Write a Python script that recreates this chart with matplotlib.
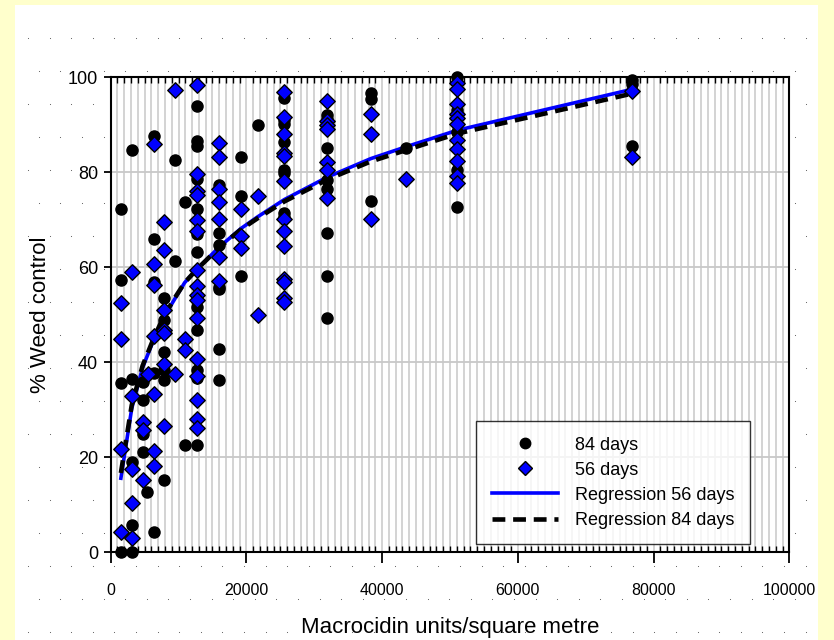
import numpy as np
import matplotlib.pyplot as plt
from matplotlib.patches import Rectangle
from matplotlib.lines import Line2D
from matplotlib.ticker import MultipleLocator

plt.rcParams['font.family'] = ['Liberation Sans', 'DejaVu Sans']

# 84 days - black circles (dose, % weed control)
x_84 = ([1500] * 4 + [3100] * 5 + [4700] * 4 + [5300] + [6400] * 5 + [7900] * 6 +
        [9500] * 2 + [10900] * 2 + [12700] * 13 + [16000] * 7 + [19200] * 3 +
        [21700] + [25600] * 8 + [31900] * 8 + [38300] * 3 + [43500] +
        [51100] * 6 + [76800] * 3)
y_84 = [72.4, 57.3, 35.6, 0.0,
        84.8, 36.4, 19.1, 5.7, 0.0,
        35.9, 32.0, 25.0, 21.1,
        12.6,
        87.6, 65.9, 57.0, 37.7, 4.3,
        53.6, 48.9, 42.2, 38.4, 36.3, 15.2,
        82.7, 61.4,
        73.8, 22.7,
        94.0, 86.7, 85.5, 78.7, 75.5, 72.2, 67.0, 63.3, 51.7, 46.9, 38.4, 36.7, 22.7,
        77.3, 67.2, 64.7, 55.9, 55.4, 42.9, 36.3,
        83.2, 75.1, 58.2,
        90.0,
        95.6, 91.0, 90.3, 86.4, 80.5, 79.8, 71.4, 70.7,
        92.1, 91.2, 85.2, 78.4, 76.6, 67.3, 58.2, 49.3,
        96.8, 95.4, 74.0,
        85.1,
        100.0, 93.1, 90.3, 88.5, 80.5, 72.8,
        99.4, 98.7, 85.5]

# 56 days - blue diamonds
x_56 = ([1500] * 4 + [3100] * 5 + [4700] * 3 + [5500] + [6400] * 7 + [7900] * 7 +
        [9500] * 2 + [10900] * 2 + [12700] * 16 + [16000] * 7 + [19200] * 3 +
        [21700] * 2 + [25600] * 13 + [31900] * 7 + [38300] * 3 + [43500] +
        [51100] * 11 + [76800] * 2)
y_56 = [52.5, 45.0, 21.7, 4.2,
        59.1, 33.0, 17.5, 10.3, 3.1,
        27.5, 25.7, 15.2,
        37.5,
        86.0, 60.8, 56.3, 45.5, 33.3, 21.3, 18.2,
        69.5, 63.6, 51.0, 46.8, 46.2, 39.6, 26.7,
        97.3, 37.5,
        45.0, 42.6,
        98.4, 79.6, 76.1, 75.2, 70.0, 67.7, 59.4, 56.1, 54.2, 53.1, 49.3, 40.8, 37.1, 32.1, 28.1, 26.2,
        86.1, 83.3, 76.6, 73.7, 70.3, 62.1, 57.2,
        72.4, 66.6, 64.0,
        75.0, 50.0,
        97.0, 91.7, 88.2, 84.1, 83.4, 78.2, 70.2, 67.7, 64.5, 57.5, 57.0, 53.5, 52.8,
        95.1, 90.9, 90.0, 89.1, 82.1, 80.5, 74.7,
        92.4, 88.0, 70.1,
        78.7,
        98.9, 97.5, 94.5, 92.4, 91.4, 90.3, 86.8, 85.0, 82.4, 79.3, 77.8,
        97.2, 83.2]

# regression curves
reg_x = [1500, 3100, 4700, 6400, 7900, 9500, 10900, 12700, 16000, 19200,
         21700, 25600, 31900, 38300, 43500, 51100, 76800]
reg_56 = [15.6, 30.3, 38.9, 45.0, 49.7, 53.5, 56.8, 59.6, 64.3, 68.2,
          70.7, 74.3, 79.0, 82.9, 85.4, 88.9, 97.5]
reg_84 = [16.7, 31.0, 39.3, 45.3, 49.9, 53.7, 56.8, 59.6, 64.2, 68.0,
          70.4, 73.9, 78.5, 82.3, 84.7, 88.2, 96.6]

W, H = 834, 640
fig = plt.figure(figsize=(W / 100, H / 100), dpi=100, facecolor='#FFFFCC')

# white page with the dotted texture
bg = fig.add_axes([0, 0, 1, 1])
bg.set_xlim(0, W)
bg.set_ylim(H, 0)
bg.axis('off')
bg.add_patch(Rectangle((15, 5), 803, 640, facecolor='white', edgecolor='none'))
for i, yy in enumerate(np.arange(38, 640, 33)):
    xx = np.arange(28 + (i % 2) * 10.8, 810, 21.6)
    bg.scatter(xx, np.full(len(xx), yy), s=0.6, color='#555555', linewidths=0)

ax = fig.add_axes([110.7 / W, 1 - 552.3 / H, 678.6 / W, 474.8 / H])
ax.set_zorder(1)
ax.set_facecolor('white')

ax.plot(reg_x, reg_56, color='#0000FF', lw=2.6, zorder=2)
ax.plot(reg_x, reg_84, color='black', lw=3.3, dashes=(2.8, 1.7), zorder=2)
ax.scatter(x_84, y_84, s=64, color='black', zorder=3, clip_on=False)
ax.scatter(x_56, y_56, s=62, marker='D', facecolor='#0000FF', edgecolor='black',
           linewidths=1.0, zorder=4, clip_on=False)

ax.set_xlim(0, 100000)
ax.set_ylim(0, 100)
ax.xaxis.set_major_locator(MultipleLocator(20000))
ax.xaxis.set_minor_locator(MultipleLocator(1000))
ax.yaxis.set_major_locator(MultipleLocator(20))

ax.grid(which='minor', axis='x', color='#C8C8C8', lw=1.1)
ax.grid(which='major', axis='x', color='#C8C8C8', lw=1.1)
ax.grid(which='major', axis='y', color='#C8C8C8', lw=1.3)
ax.set_axisbelow(True)

ax.tick_params(axis='x', which='major', direction='out', length=8, width=1.3,
               labelsize=11.5, pad=14)
ax.tick_params(axis='x', which='minor', direction='in', length=4, width=1,
               top=True)
ax.tick_params(axis='y', which='major', direction='out', length=5, width=1.3,
               labelsize=13, pad=4)
for s in ax.spines.values():
    s.set_linewidth(1.5)
    s.set_color('black')

ax.set_xlabel('Macrocidin units/square metre', fontsize=16, labelpad=14)
ax.set_ylabel('% Weed control', fontsize=16, labelpad=12)

handles = [
    Line2D([], [], marker='o', color='black', linestyle='none', markersize=7.5),
    Line2D([], [], marker='D', markerfacecolor='#0000FF', markeredgecolor='black',
           linestyle='none', markersize=7),
    Line2D([], [], color='#0000FF', lw=2.6),
    Line2D([], [], color='black', lw=3.3, dashes=(2.8, 1.7)),
]
labels = ['84 days', '56 days', 'Regression 56 days', 'Regression 84 days']
leg = ax.legend(handles, labels, loc='lower left', bbox_to_anchor=(0.539, 0.017),
                fontsize=13, frameon=True, fancybox=False, edgecolor='black',
                handlelength=3.65, handletextpad=0.95, labelspacing=0.45,
                borderpad=0.85, borderaxespad=0)
leg.get_frame().set_linewidth(1.0)

fig.savefig('out.png', dpi=100, facecolor=fig.get_facecolor())
